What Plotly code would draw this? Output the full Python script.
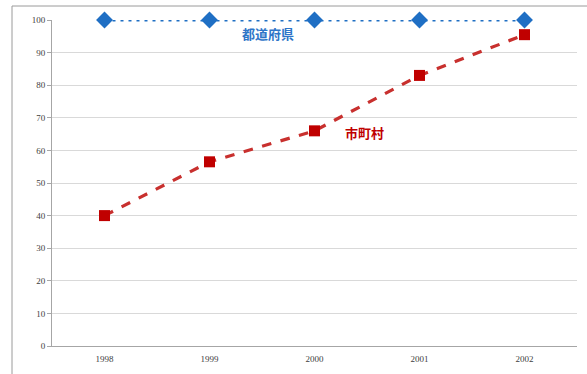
import plotly.graph_objects as go

years = ["1998", "1999", "2000", "2001", "2002"]
prefectures = [100, 100, 100, 100, 100]
municipalities = [40, 56.5, 66, 83, 95.5]
y_ticks = [0, 10, 20, 30, 40, 50, 60, 70, 80, 90, 100]

fig = go.Figure()
fig.add_trace(go.Scatter(
    x=years, y=prefectures, mode="lines+markers", cliponaxis=False,
    line=dict(color="#1f6fc4", width=3, dash="3px,5px"),
    marker=dict(symbol="diamond", size=13, color="#1f6fc4"),
    name="都道府県", showlegend=False))
fig.add_trace(go.Scatter(
    x=years, y=municipalities, mode="lines+markers", cliponaxis=False,
    line=dict(color="#c8302e", width=3.2, dash="dash"),
    marker=dict(symbol="square", size=11, color="#c00000"),
    name="市町村", showlegend=False))

fig.add_annotation(x=1.56, y=95.8, text="<b>都道府県</b>", showarrow=False,
                   font=dict(color="#2e75c8", size=13, family="Noto Sans CJK JP"))
fig.add_annotation(x=2.48, y=65.5, text="<b>市町村</b>", showarrow=False,
                   font=dict(color="#c00000", size=13, family="Noto Sans CJK JP"))

# outer frame
fig.add_shape(type="rect", xref="paper", yref="paper",
              x0=-40/525, x1=1.05, y0=-0.2, y1=1.0 + 14/326,
              line=dict(color="#9a9a9a", width=1), layer="below")

fig.update_layout(
    width=587, height=374,
    margin=dict(l=52, r=10, t=20, b=28),
    paper_bgcolor="white", plot_bgcolor="white",
    font=dict(family="Liberation Serif", size=9, color="#404040"),
)
fig.update_xaxes(type="category", range=[-0.5, 4.5], showgrid=False,
                 showline=True, linecolor="#a6a6a6", linewidth=1,
                 ticks="", tickfont=dict(size=9), ticklabelstandoff=4)
fig.update_yaxes(range=[0, 100], tickvals=y_ticks, showgrid=True,
                 gridcolor="#d9d9d9", gridwidth=1,
                 showline=True, linecolor="#a6a6a6", linewidth=1,
                 ticks="outside", ticklen=4, tickcolor="#a6a6a6",
                 zeroline=False, tickfont=dict(size=9))

fig.write_html("out.html")
